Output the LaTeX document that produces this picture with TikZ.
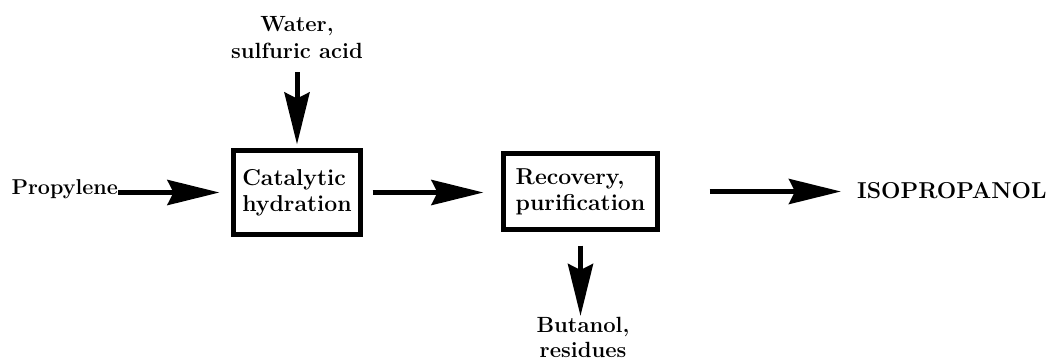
\documentclass[tikz,border=0pt]{standalone}
\usetikzlibrary{arrows.meta}
\begin{document}
\begin{tikzpicture}[x=1pt,y=-1pt,
  flow/.style={line width=5pt, -{Stealth[length=52pt,width=25pt,inset=6pt]}},
  procbox/.style={draw, line width=5pt, align=left, inner sep=0pt, font=\bfseries\fontsize{23}{26}\selectfont},
  lbl/.style={inner sep=0pt, font=\bfseries\fontsize{22}{25}\selectfont, align=center},
  blbl/.style={inner sep=0pt, font=\bfseries\fontsize{22}{27}\selectfont, align=center}]
\useasboundingbox (0,0) rectangle (1046,362);
\node[procbox, minimum width=127pt, minimum height=84pt] (box1) at (297,192.5) {Catalytic\\hydration};
\node[procbox, minimum width=154pt, minimum height=76pt] (box2) at (580.5,191.5) {Recovery,\\purification};
\node[lbl, font=\bfseries\fontsize{21.5}{25}\selectfont, anchor=mid east] (prop) at (118,192.5) {Propylene};
\node[blbl] (water) at (297,38) {Water,\\sulfuric acid};
\node[blbl, font=\bfseries\fontsize{23}{27}\selectfont, anchor=base west] (iso) at (857,198) {ISOPROPANOL};
\node[lbl, anchor=north] (buta) at (583,317) {Butanol,\\residues};
\draw[flow, shorten >=11.5pt] (prop.mid east) -- (box1.west);
\draw[flow, shorten <=9.5pt, shorten >=17.5pt] (box1.east) -- (box1.east -| box2.west);
\draw[flow, shorten <=49.5pt, shorten >=16pt] (box2.east) -- (box2.east -| iso.west);
\draw[flow, shorten <=13pt, shorten >=3.5pt] (water.south) -- (water.south |- box1.north);
\draw[flow, shorten <=13.5pt, shorten >=1pt] (box2.south) -- (box2.south |- buta.north);
\end{tikzpicture}
\end{document}
